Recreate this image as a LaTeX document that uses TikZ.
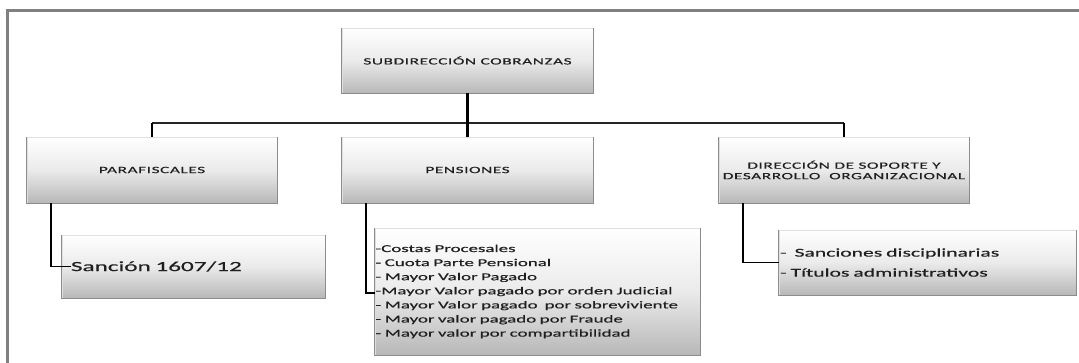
\documentclass[tikz,border=0pt]{standalone}
\usepackage{fontspec}
\setmainfont{Carlito}
\newfontfamily\capsf[FakeStretch=1.8,LetterSpace=6,FakeBold=0.4]{Carlito}
\newfontfamily\listf[FakeStretch=1.8,FakeBold=0.4]{Carlito}
\begin{document}
\begin{tikzpicture}[x=1pt,y=-1pt,
  box/.style={rectangle, inner sep=0pt, top color=white, bottom color=black!28, middle color=white!92!black, draw=black!12, text=black!88},
  capslabel/.style={box, font=\capsf\fontsize{9.6}{10.5}\selectfont, align=center},
  listbox/.style={box, align=left, anchor=center},
  edge/.style={draw=black!45, line width=1.3pt},
  conn/.style={draw=black, line width=1.6pt},
  tick/.style={draw=black, line width=2.2pt},
  bus/.style={draw=black!85, line width=1.3pt},
  frame/.style={draw=black!50, line width=3pt}]
\useasboundingbox (0,0) rectangle (1079,363);
\draw[frame] (7,363) -- (7,11) -- (1079,11);

\node[capslabel, minimum width=251pt, minimum height=65pt] (top) at (467.5,60.5) {SUBDIRECCIÓN COBRANZAS};
\node[capslabel, minimum width=250pt, minimum height=66pt] (par) at (152,170) {PARAFISCALES};
\node[capslabel, minimum width=251pt, minimum height=66pt] (pen) at (467.5,170) {PENSIONES};
\node[capslabel, minimum width=250pt, minimum height=66pt] (dir) at (844,170) {DIRECCIÓN DE SOPORTE Y\\DESARROLLO\ \ ORGANIZACIONAL};

\node[listbox, minimum width=263pt, minimum height=63pt, text width=245pt,
  font=\listf\fontsize{14}{16}\selectfont] (san) at (193.5,266.5) {Sanción 1607/12};
\node[listbox, minimum width=325pt, minimum height=127pt, text width=324pt,
  font=\listf\fontsize{10.5}{14.1}\selectfont] (lst) at (537.5,291.5)
  {-Costas Procesales\\
   - Cuota Parte Pensional\\
   - Mayor Valor Pagado\\
   -Mayor Valor pagado por orden Judicial\\
   - Mayor Valor pagado\ \ por sobreviviente\\
   - Mayor valor pagado por Fraude\\
   - Mayor valor por compartibilidad};
\node[listbox, minimum width=297pt, minimum height=65pt, text width=295pt,
  font=\listf\fontsize{12}{20}\selectfont] (dirc) at (927.5,262.5)
  {-\ \ Sanciones disciplinarias\\
   - Títulos administrativos};

\foreach \n in {top,par,pen,dir,san,lst,dirc}{
  \draw[edge] (\n.north west) -- (\n.south west) -- (\n.south east) -- (\n.north east);
}

\coordinate (busc) at (467.5,123);
\draw[bus] (par.north |- busc) -- (dir.north |- busc);
\draw[tick] (top.south) -- (pen.north);
\draw[tick] (par.north) -- (par.north |- busc);
\draw[tick] (dir.north) -- (dir.north |- busc);

\draw[conn] ([xshift=24pt]par.south west) |- ([xshift=9pt]san.west);
\draw[conn] ([xshift=24pt]pen.south west) |- ([yshift=-1.5pt]lst.west);
\draw[conn] ([xshift=24pt]dir.south west) |- (dirc.west);
\end{tikzpicture}
\end{document}
